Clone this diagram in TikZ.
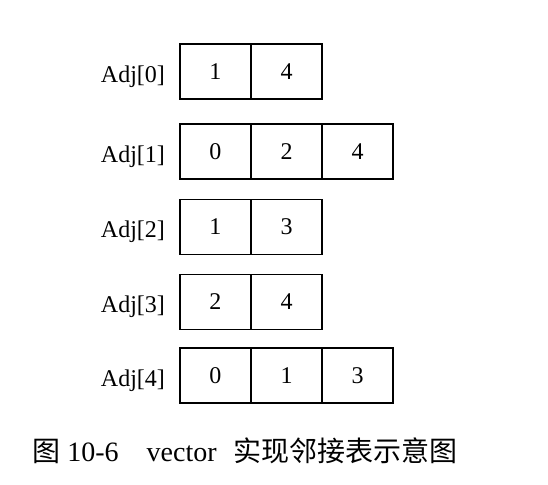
\documentclass[tikz,border=0pt]{standalone}
\usepackage{fontspec}
\setmainfont{Liberation Serif}
\newfontfamily\cjk{Noto Sans CJK SC}
\usetikzlibrary{positioning}

\begin{document}
\begin{tikzpicture}
[x = 0.5pt, y = -0.5pt, line cap = round, 
cell/.style = {draw, line width = 0.9pt, minimum width = 35.5pt, minimum height = 27.5pt, inner sep = 0pt, outer sep = 0pt, font = \fontsize{12}{14}\selectfont}, 
adj label/.style = {font = \fontsize{12}{14}\selectfont, yshift = -2.5pt}, 
caption text/.style = {anchor = west, inner sep = 0pt, font = \fontsize{14}{17}\selectfont}]

\useasboundingbox[fill = white] (0, 0) rectangle (548, 485);

% one row of cells per vertex
\foreach \i/\y/\vals in {0/71.5/{1,4}, 1/151.5/{0,2,4}, 2/227/{1,3}, 3/302/{2,4}, 4/375.5/{0,1,3}} {
\foreach \v [count = \k] in \vals \node[cell] (c\i\k) at ({144.5 + 71*\k}, \y) {\v};
\node[adj label, left = 4pt of c\i1] (adj\i) {Adj[\i]};
}

\node[caption text] (caption) at (32, 451) {{\cjk 图} 10-6\quad vector\hspace{5pt} {\cjk 实现邻接表示意图}};
\end{tikzpicture}
\end{document}
